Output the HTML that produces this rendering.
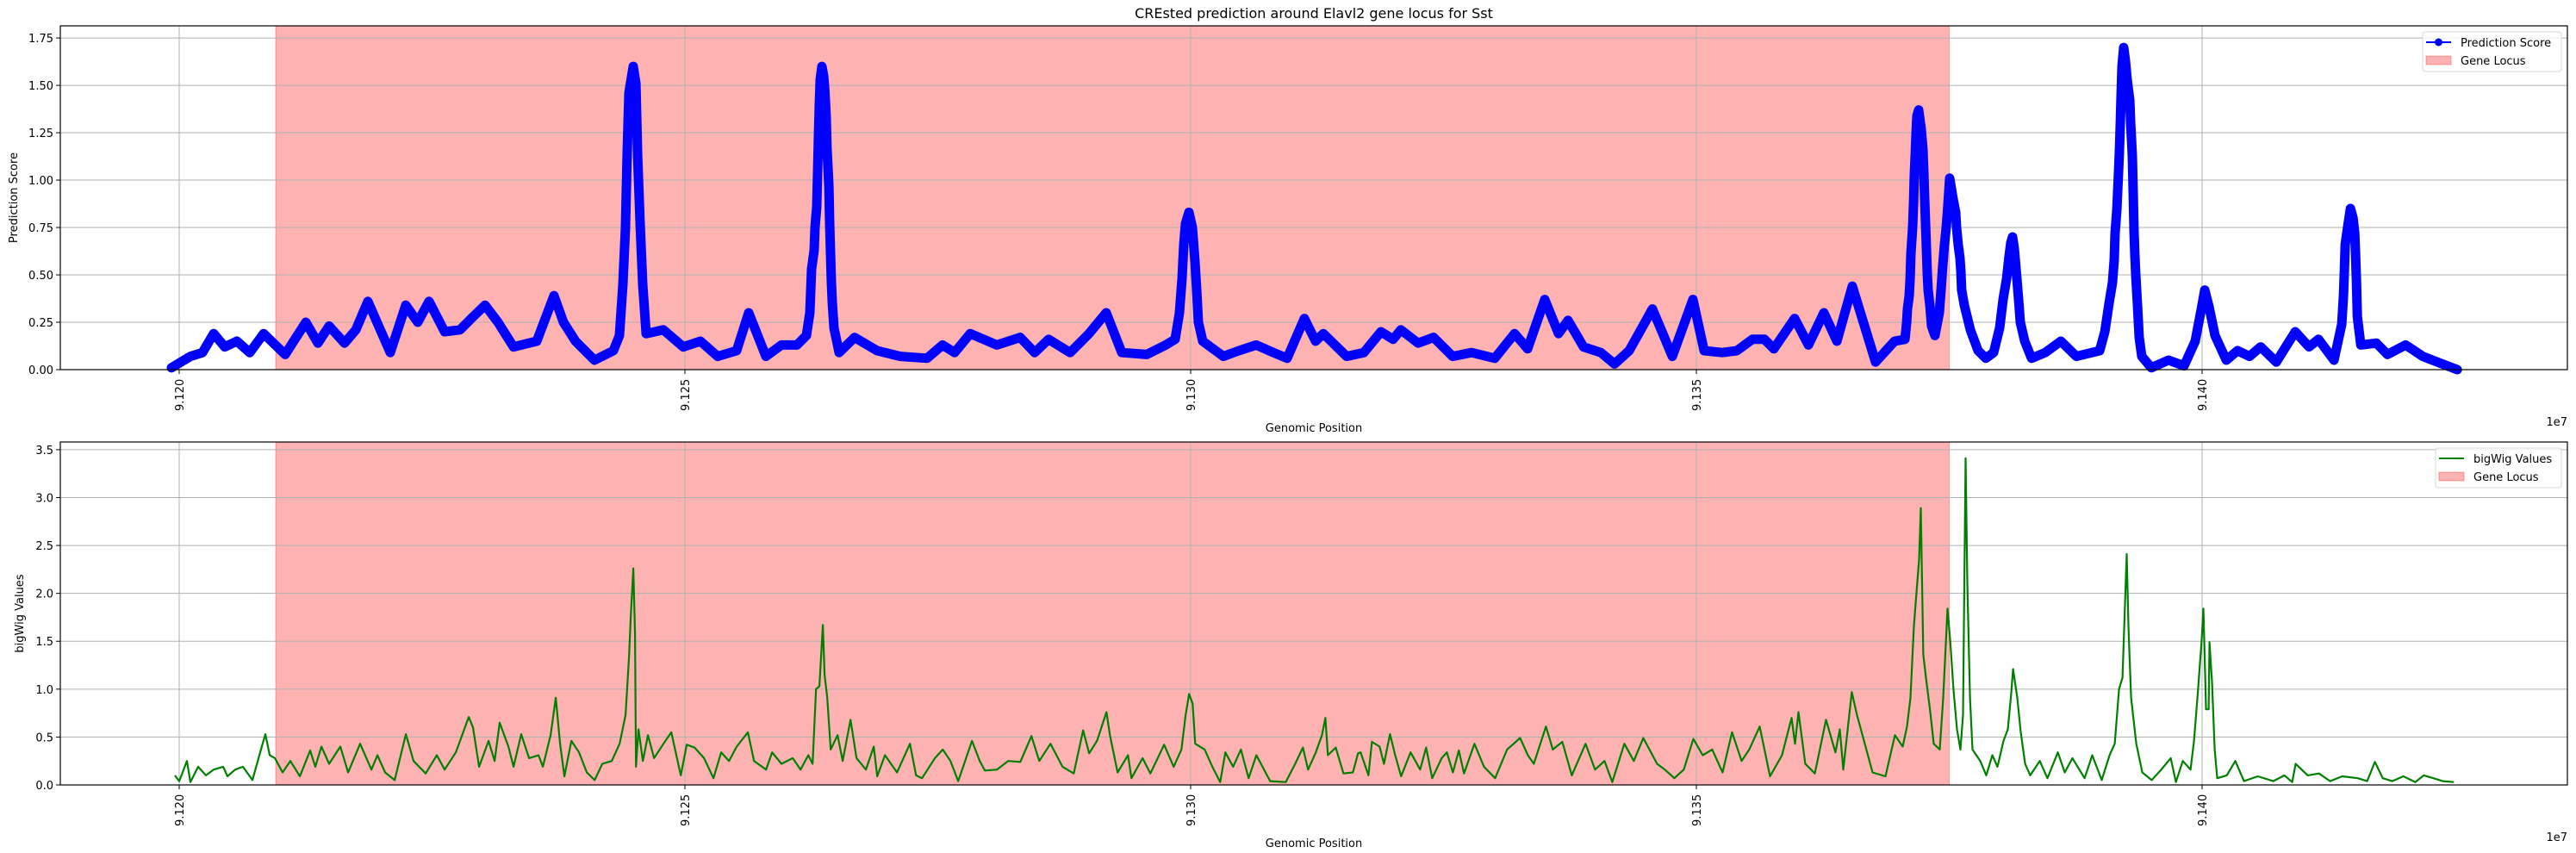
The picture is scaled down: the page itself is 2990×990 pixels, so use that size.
<!DOCTYPE html>
<html><head><meta charset="utf-8">
<style>
html,body{margin:0;padding:0;background:#fff;}
svg{display:block;font-family:"DejaVu Sans","Liberation Sans",sans-serif;}
</style></head>
<body>
<svg id="chart" width="2990" height="990" viewBox="0 0 2990 990" xmlns="http://www.w3.org/2000/svg">
<rect x="0" y="0" width="2990" height="990" fill="#fff"/>
<text x="1525" y="21" text-anchor="middle" font-size="16" fill="#000">CREsted prediction around Elavl2 gene locus for Sst</text>
<g id="top"></g>
<g id="bot"></g>
</svg>
<script>
// positions in kb relative to 91,200,000 bp
const predPos = [-0.77,1.11,2.30,3.41,4.51,5.71,6.98,8.35,10.48,12.52,13.71,14.82,16.35,17.46,18.65,20.87,22.40,23.59,24.70,26.24,27.77,28.88,30.24,31.52,33.05,35.35,37.05,37.99,39.18,41.06,42.93,43.53,43.87,44.12,44.29,44.46,44.89,45.15,45.32,45.57,45.83,46.17,47.87,49.83,51.53,53.24,55.11,56.30,58.01,59.54,61.07,62.01,62.35,62.52,62.78,62.86,63.03,63.12,63.20,63.29,63.37,63.54,63.71,63.80,63.88,63.97,64.05,64.23,64.31,64.40,64.48,64.57,64.74,65.25,66.78,69.00,71.30,73.94,75.47,76.66,78.20,80.84,83.14,84.58,85.95,88.08,89.95,91.65,93.19,95.66,97.53,98.47,98.89,99.15,99.32,99.49,99.83,100.17,100.43,100.60,100.77,101.19,103.24,104.77,106.48,108.18,109.54,111.24,112.35,113.12,115.42,117.12,118.82,120.02,120.78,122.49,124.02,125.90,127.77,130.07,132.03,133.31,135.01,136.37,137.31,138.84,140.55,141.91,143.36,145.66,147.62,149.66,150.77,152.56,154.01,155.54,156.73,157.67,159.71,161.08,162.61,163.89,165.42,167.72,169.59,170.62,170.79,170.87,171.04,171.13,171.21,171.38,171.47,171.55,171.64,171.72,171.81,171.98,172.23,172.40,172.49,172.57,172.66,172.74,172.83,172.91,173.08,173.25,173.59,174.02,174.19,174.36,174.53,174.70,174.87,175.04,175.38,175.64,175.72,175.89,176.06,176.15,176.23,176.49,177.09,177.85,178.62,179.39,179.98,180.32,180.67,180.92,181.09,181.26,181.43,181.69,181.86,182.03,182.46,183.14,184.50,186.03,187.57,189.87,190.38,190.80,191.14,191.31,191.40,191.57,191.65,191.74,191.82,191.91,191.99,192.08,192.25,192.42,192.59,192.85,192.93,193.10,193.19,193.27,193.36,193.44,193.61,193.78,194.04,194.98,196.68,198.22,199.32,199.92,200.26,200.69,201.28,202.39,203.50,204.69,205.79,207.33,209.21,210.57,211.51,213.04,213.81,213.98,214.07,214.15,214.41,214.67,214.92,215.09,215.18,215.26,215.35,215.69,217.22,218.33,220.12,221.82,223.27,225.23];
const predVal = [.01,.07,.09,.19,.12,.15,.09,.19,.08,.25,.14,.23,.14,.21,.36,.09,.34,.25,.36,.20,.21,.27,.34,.25,.12,.15,.39,.25,.15,.05,.10,.18,.45,.75,1.15,1.46,1.60,1.51,1.13,.77,.45,.19,.21,.12,.15,.07,.10,.30,.07,.13,.13,.18,.30,.53,.63,.75,.86,1.04,1.23,1.40,1.53,1.60,1.55,1.50,1.42,1.33,1.17,.97,.77,.60,.46,.35,.22,.09,.17,.10,.07,.06,.13,.09,.19,.13,.17,.09,.16,.09,.19,.30,.09,.08,.13,.16,.30,.48,.66,.77,.83,.75,.57,.42,.25,.15,.07,.10,.13,.09,.06,.27,.15,.19,.07,.09,.20,.16,.21,.14,.17,.07,.09,.06,.19,.11,.37,.19,.26,.12,.09,.03,.10,.32,.07,.37,.10,.09,.10,.16,.16,.11,.27,.13,.30,.15,.44,.04,.15,.16,.25,.32,.39,.48,.61,.75,.88,1.03,1.14,1.25,1.34,1.37,1.27,1.16,1.04,.90,.77,.64,.51,.42,.34,.23,.18,.30,.42,.55,.66,.75,.87,1.01,.90,.83,.75,.66,.59,.52,.42,.34,.21,.10,.06,.09,.22,.37,.48,.60,.67,.70,.64,.48,.37,.25,.15,.06,.09,.15,.07,.10,.20,.35,.46,.58,.72,.84,.94,1.04,1.15,1.29,1.45,1.60,1.70,1.63,1.53,1.42,1.31,1.13,.92,.73,.60,.50,.34,.17,.07,.01,.05,.02,.15,.32,.42,.33,.18,.05,.10,.07,.12,.04,.20,.12,.16,.05,.24,.39,.53,.66,.76,.85,.80,.72,.60,.46,.28,.13,.14,.08,.13,.07,.04,.00];
const bwPos = [-0.43,0,0.77,1.11,1.87,2.64,3.41,4.35,4.77,5.54,6.30,7.24,8.01,8.52,8.95,9.46,10.22,10.99,11.93,12.95,13.46,14.06,14.82,15.93,16.70,17.89,19.00,19.60,20.36,21.30,22.41,23.17,24.37,25.47,26.24,27.35,28.63,29.05,29.65,30.59,31.18,31.69,32.55,33.06,33.82,34.59,35.53,35.95,36.72,37.23,37.66,38.08,38.77,39.53,40.30,41.07,41.83,42.77,43.54,44.13,44.47,44.64,44.90,45.07,45.16,45.41,45.84,46.35,46.95,47.88,48.65,49.59,50.18,50.95,51.89,52.82,53.59,54.36,55.12,56.23,56.83,58.02,58.62,59.55,60.66,61.43,62.20,62.62,62.96,63.30,63.64,63.81,64.07,64.41,65.09,65.60,66.37,66.97,67.90,68.67,69.01,69.78,70.97,72.25,72.85,73.44,74.72,75.49,76.25,77.02,78.38,79.15,79.66,80.85,81.96,83.16,84.26,85.03,86.14,87.33,88.44,89.37,89.97,90.74,91.68,92.02,92.78,93.81,94.15,95.25,96.02,97.38,98.32,99.09,99.51,99.85,100.20,100.45,101.39,102.15,102.92,103.43,104.20,104.97,105.73,106.50,107.86,109.40,110.33,111.10,111.61,112.38,112.98,113.32,113.57,114.34,115.11,116.04,116.55,116.81,117.58,117.92,118.68,119.11,119.71,120.22,120.81,121.75,122.69,123.28,123.88,124.82,125.33,125.93,126.52,127.03,128.06,129.00,130.10,131.29,132.57,133.34,133.93,135.13,135.81,136.75,137.68,139.05,139.98,140.92,141.69,142.88,143.82,144.75,146.12,146.88,147.82,148.76,149.70,150.63,151.57,152.59,153.53,154.47,155.23,156.26,157.28,158.47,159.41,159.75,160.09,160.77,161.71,162.82,163.75,164.18,164.52,165.37,165.88,166.65,167.42,168.70,169.63,170.40,170.83,171.17,171.51,171.77,172.02,172.19,172.44,172.70,173.13,173.47,174.06,174.40,174.83,175.09,175.43,175.77,176.11,176.36,176.62,176.79,177.05,177.30,178.07,178.66,179.26,179.77,180.37,180.79,181.14,181.31,181.73,182.07,182.50,183.01,183.95,184.71,185.74,186.42,187.18,188.38,189.14,190.08,190.85,191.36,191.79,192.13,192.55,192.72,192.98,193.49,194.09,195.02,195.96,196.90,197.41,198.09,198.86,199.20,199.54,199.96,200.13,200.39,200.65,200.73,200.99,201.24,201.50,202.44,203.29,204.14,205.50,207.04,208.14,208.91,209.25,210.44,211.55,212.66,213.85,215.39,216.32,217.09,217.86,218.79,219.90,221.09,221.92,222.86,223.79,224.90];
const bwVal = [.10,.04,.25,.03,.19,.10,.16,.19,.09,.16,.19,.05,.34,.53,.31,.28,.13,.25,.09,.36,.19,.40,.22,.40,.13,.43,.16,.31,.13,.05,.53,.25,.12,.31,.16,.34,.71,.60,.19,.46,.25,.65,.40,.19,.53,.28,.31,.19,.52,.91,.43,.09,.46,.34,.13,.05,.22,.25,.43,.73,1.33,1.75,2.26,1.57,.19,.58,.25,.52,.28,.43,.55,.10,.42,.39,.28,.07,.34,.25,.40,.55,.25,.16,.34,.22,.28,.16,.31,.22,1.00,1.03,1.67,1.15,.91,.37,.52,.25,.68,.28,.16,.40,.09,.31,.13,.43,.10,.07,.28,.37,.25,.04,.46,.25,.15,.16,.25,.24,.51,.25,.43,.19,.12,.57,.33,.46,.76,.52,.13,.31,.07,.28,.12,.42,.19,.37,.73,.95,.85,.43,.37,.19,.03,.34,.19,.37,.07,.31,.04,.03,.22,.39,.16,.34,.52,.70,.31,.39,.12,.13,.33,.34,.10,.45,.40,.22,.53,.31,.09,.34,.16,.39,.07,.28,.34,.13,.36,.12,.43,.19,.07,.37,.49,.31,.22,.61,.37,.45,.10,.43,.16,.25,.03,.43,.25,.49,.22,.16,.07,.16,.48,.31,.37,.13,.55,.25,.37,.61,.09,.31,.70,.43,.76,.22,.12,.68,.34,.58,.16,.97,.73,.43,.13,.09,.52,.40,.61,.91,1.66,2.02,2.35,2.89,1.36,1.12,.76,.43,.37,.91,1.84,1.51,.99,.58,.37,.73,3.41,2.11,.91,.37,.25,.10,.31,.19,.46,.58,.97,1.21,.91,.55,.22,.10,.25,.07,.34,.13,.28,.07,.31,.05,.31,.43,1.00,1.12,2.41,1.66,.91,.43,.13,.05,.16,.28,.03,.25,.16,.46,.91,1.51,1.84,.79,.79,1.49,1.06,.37,.07,.10,.25,.04,.09,.04,.10,.03,.22,.10,.12,.04,.09,.07,.04,.24,.07,.04,.09,.03,.10,.07,.04,.03];
const xTicks = [0,50,100,150,200];
const xTickLabels = ["9.120","9.125","9.130","9.135","9.140"];
const topYTicks = [0,0.25,0.5,0.75,1.0,1.25,1.5,1.75];
const topYLabels = ["0.00","0.25","0.50","0.75","1.00","1.25","1.50","1.75"];
const botYTicks = [0,0.5,1.0,1.5,2.0,2.5,3.0,3.5];
const botYLabels = ["0.0","0.5","1.0","1.5","2.0","2.5","3.0","3.5"];
const geneLocus = [9.54, 175.0];

const NS = "http://www.w3.org/2000/svg";
const L = 70, R = 2980;
const xS = kb => 208 + kb * 11.74;
function mk(parent, tag, attrs, text) {
  const e = document.createElementNS(NS, tag);
  for (const k in attrs) e.setAttribute(k, attrs[k]);
  if (text !== undefined) e.textContent = text;
  parent.appendChild(e);
  return e;
}
function panel(g, top, bottom, yMax, yTicks, yLabels, yTitle, yTitleX, prefix) {
  const yS = v => bottom - v / yMax * (bottom - top);
  const span = mk(g, 'rect', {x: xS(geneLocus[0]), y: top, width: xS(geneLocus[1]) - xS(geneLocus[0]), height: bottom - top, fill: 'rgba(255,0,0,0.3)', stroke: 'rgba(255,0,0,0.3)', 'stroke-width': 1});
  
  
  xTicks.forEach((t, i) => {
    const x = xS(t);
    const gl = mk(g, 'line', {x1: x, x2: x, y1: top, y2: bottom, stroke: '#b0b0b0', 'stroke-width': 1});
    
    
    mk(g, 'line', {x1: x, x2: x, y1: bottom, y2: bottom + 5, stroke: '#000', 'stroke-width': 1});
    const tl = mk(g, 'text', {x: 0, y: 0, transform: `translate(${x + 5},${bottom + 48}) rotate(-90)`, 'font-size': 13, fill: '#000'}, xTickLabels[i]);
    
    
  });
  yTicks.forEach((t, i) => {
    const y = yS(t);
    const gl = mk(g, 'line', {x1: L, x2: R, y1: y, y2: y, stroke: '#b0b0b0', 'stroke-width': 1});
    
    
    mk(g, 'line', {x1: L - 5, x2: L, y1: y, y2: y, stroke: '#000', 'stroke-width': 1});
    const tl = mk(g, 'text', {x: L - 8, y: y + 5, 'text-anchor': 'end', 'font-size': 13, fill: '#000'}, yLabels[i]);
    
    
  });
  const yt = mk(g, 'text', {x: 0, y: 0, transform: `translate(${yTitleX},${(top + bottom) / 2}) rotate(-90)`, 'text-anchor': 'middle', 'font-size': 13, fill: '#000'}, yTitle);
  
  
  const xt = mk(g, 'text', {x: 1525, y: bottom + 72, 'text-anchor': 'middle', 'font-size': 13, fill: '#000'}, 'Genomic Position');
  
  
  const off = mk(g, 'text', {x: R, y: bottom + 65, 'text-anchor': 'end', 'font-size': 13, fill: '#000'}, '1e7');
  
  
  return yS;
}

// top panel
const gT = document.getElementById('top');
const yT = panel(gT, 30, 429, 1.814, topYTicks, topYLabels, 'Prediction Score', 20, 'top');
const ptsT = predPos.map((p, i) => xS(p).toFixed(1) + ',' + yT(predVal[i]).toFixed(1)).join(' ');
const band = mk(gT, 'polyline', {points: ptsT, fill: 'none', stroke: '#0000ff', 'stroke-width': 11, 'stroke-linejoin': 'round', 'stroke-linecap': 'round'});


const lineT = mk(gT, 'polyline', {points: ptsT, fill: 'none', stroke: '#0000ff', 'stroke-width': 1.5});


predPos.forEach((p, i) => {
  const c = mk(gT, 'circle', {cx: xS(p), cy: yT(predVal[i]), r: 4.5, fill: '#0000ff'});
  
  
});
mk(gT, 'rect', {x: L, y: 30, width: R - L, height: 399, fill: 'none', stroke: '#000', 'stroke-width': 1.2});

// bottom panel
const gB = document.getElementById('bot');
const yB = panel(gB, 513, 911, 3.58, botYTicks, botYLabels, 'bigWig Values', 27, 'bottom');
const lineB = mk(gB, 'polyline', {points: bwPos.map((p, i) => xS(p).toFixed(1) + ',' + yB(bwVal[i]).toFixed(1)).join(' '), fill: 'none', stroke: '#008000', 'stroke-width': 2.2, 'stroke-linejoin': 'round'});


mk(gB, 'rect', {x: L, y: 513, width: R - L, height: 398, fill: 'none', stroke: '#000', 'stroke-width': 1.2});

// legends
function legend(g, x, y, w, h, first, isMarker, color, prefix) {
  const lg = mk(g, 'g', {});
  
  
  mk(lg, 'rect', {x, y, width: w, height: h, rx: 3, fill: 'rgba(255,255,255,0.8)', stroke: '#d9d9d9'});
  const e1 = mk(lg, 'g', {});
  
  
  mk(e1, 'line', {x1: x + 4, x2: x + 33, y1: y + 12, y2: y + 12, stroke: color, 'stroke-width': 2});
  if (isMarker) mk(e1, 'circle', {cx: x + 18.5, cy: y + 12, r: 4.5, fill: color});
  mk(e1, 'text', {x: x + 44, y: y + 17, 'font-size': 13, fill: '#000'}, first);
  const e2 = mk(lg, 'g', {});
  
  
  mk(e2, 'rect', {x: x + 4, y: y + 28, width: 29, height: 10, fill: 'rgba(255,0,0,0.3)', stroke: 'rgba(255,0,0,0.3)'});
  mk(e2, 'text', {x: x + 44, y: y + 38, 'font-size': 13, fill: '#000'}, 'Gene Locus');
}
legend(gT, 2812, 37, 161, 46, 'Prediction Score', true, '#0000ff', 'top');
legend(gB, 2827, 520, 146, 46, 'bigWig Values', false, '#008000', 'bottom');
</script>
</body></html>
